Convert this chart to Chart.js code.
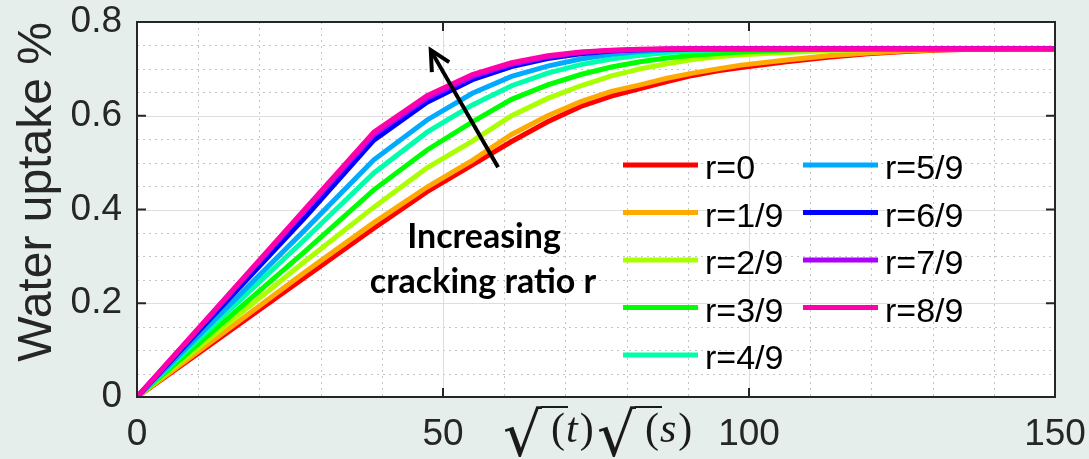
<!DOCTYPE html>
<html>
<head>
<meta charset="utf-8">
<script src="https://cdn.jsdelivr.net/npm/chart.js@4.4.1/dist/chart.umd.min.js"></script>
<style>
html, body { margin: 0; padding: 0; background: #e6eeec; }
canvas { display: block; }
</style>
</head>
<body>
<canvas id="uptakeChart" width="1089" height="459"></canvas>
<script>
// sqrt(t) sample points shared by every curve
const sqrtTime = [0, 27.4, 38.7, 47.4, 54.8, 61.2, 67.1, 72.5, 77.5, 82.2, 86.6, 90.8, 94.9, 98.7, 106.1, 112.9, 119.4, 125.5, 131.3, 136.9, 142.3, 150];

const ratioLabels = ["r=0", "r=1/9", "r=2/9", "r=3/9", "r=4/9", "r=5/9", "r=6/9", "r=7/9", "r=8/9"];

// water uptake (%) for each cracking ratio
const uptakeR0 = [0, 0.255, 0.360, 0.438, 0.495, 0.545, 0.587, 0.620, 0.642, 0.658, 0.673, 0.686, 0.696, 0.703, 0.715, 0.725, 0.732, 0.737, 0.740, 0.742, 0.743, 0.743];
const uptakeR1 = [0, 0.266, 0.372, 0.448, 0.505, 0.560, 0.600, 0.630, 0.652, 0.666, 0.680, 0.691, 0.700, 0.708, 0.719, 0.728, 0.734, 0.738, 0.741, 0.742, 0.743, 0.743];
const uptakeR2 = [0, 0.289, 0.405, 0.489, 0.546, 0.600, 0.637, 0.664, 0.685, 0.700, 0.711, 0.720, 0.726, 0.730, 0.735, 0.739, 0.741, 0.742, 0.743, 0.743, 0.743, 0.743];
const uptakeR3 = [0, 0.310, 0.442, 0.527, 0.587, 0.635, 0.666, 0.688, 0.704, 0.715, 0.723, 0.729, 0.733, 0.736, 0.740, 0.742, 0.743, 0.743, 0.743, 0.743, 0.743, 0.743];
const uptakeR4 = [0, 0.336, 0.478, 0.565, 0.623, 0.664, 0.691, 0.709, 0.721, 0.729, 0.735, 0.738, 0.741, 0.742, 0.743, 0.743, 0.743, 0.743, 0.743, 0.743, 0.743, 0.743];
const uptakeR5 = [0, 0.356, 0.506, 0.591, 0.648, 0.684, 0.706, 0.721, 0.731, 0.737, 0.740, 0.742, 0.743, 0.743, 0.743, 0.743, 0.743, 0.743, 0.743, 0.743, 0.743, 0.743];
const uptakeR6 = [0, 0.382, 0.548, 0.629, 0.677, 0.705, 0.722, 0.732, 0.738, 0.741, 0.742, 0.743, 0.743, 0.743, 0.743, 0.743, 0.743, 0.743, 0.743, 0.743, 0.743, 0.743];
const uptakeR7 = [0, 0.397, 0.560, 0.638, 0.684, 0.710, 0.726, 0.735, 0.739, 0.741, 0.742, 0.743, 0.743, 0.743, 0.743, 0.743, 0.743, 0.743, 0.743, 0.743, 0.743, 0.743];
const uptakeR8 = [0, 0.400, 0.565, 0.643, 0.688, 0.713, 0.728, 0.736, 0.740, 0.742, 0.743, 0.743, 0.743, 0.743, 0.743, 0.743, 0.743, 0.743, 0.743, 0.743, 0.743, 0.743];

const xTicks = [0, 50, 100, 150];
const yTicks = [0, 0.2, 0.4, 0.6, 0.8];

const allSeries = [uptakeR0, uptakeR1, uptakeR2, uptakeR3, uptakeR4, uptakeR5, uptakeR6, uptakeR7, uptakeR8];
const lineColors = ["#ff0000", "#ffaa00", "#aaff00", "#00ff00", "#00ffaa", "#00aaff", "#0000ff", "#aa00ff", "#ff00aa"];

const axisColor = "#262626";
const sansFont = '"Liberation Sans", Arial, sans-serif';

const datasets = allSeries.map((vals, i) => ({
  label: ratioLabels[i],
  data: vals.map((v, j) => ({ x: sqrtTime[j], y: v })),
  borderColor: lineColors[i],
  backgroundColor: lineColors[i],
  borderWidth: 5,
  pointRadius: 0,
  tension: 0,
  fill: false,
  order: allSeries.length - 1 - i   // later ratios drawn on top
}));

// background, grid, frame and inward tick marks
const axesBox = {
  id: "axesBox",
  beforeDraw(chart) {
    const { ctx, chartArea: a } = chart;
    ctx.save();
    ctx.fillStyle = "#e6eeec";
    ctx.fillRect(0, 0, chart.width, chart.height);
    ctx.fillStyle = "#ffffff";
    ctx.fillRect(a.left, a.top, a.right - a.left, a.bottom - a.top);
    ctx.restore();
  },
  beforeDatasetsDraw(chart) {
    const { ctx, chartArea: a, scales: { x, y } } = chart;
    ctx.save();
    ctx.lineWidth = 1;
    // minor dotted grid
    ctx.strokeStyle = "#c4c4c4";
    ctx.setLineDash([2, 4]);
    for (let v = 10; v < 150; v += 10) {
      if (v % 50 === 0) continue;
      const px = Math.round(x.getPixelForValue(v)) + 0.5;
      ctx.beginPath(); ctx.moveTo(px, a.top); ctx.lineTo(px, a.bottom); ctx.stroke();
    }
    for (let k = 1; k < 16; k++) {
      if (k % 4 === 0) continue;
      const py = Math.round(y.getPixelForValue(k * 0.05)) + 0.5;
      ctx.beginPath(); ctx.moveTo(a.left, py); ctx.lineTo(a.right, py); ctx.stroke();
    }
    // major solid grid
    ctx.setLineDash([]);
    ctx.strokeStyle = "#dedede";
    xTicks.slice(1, -1).forEach(v => {
      const px = Math.round(x.getPixelForValue(v)) + 0.5;
      ctx.beginPath(); ctx.moveTo(px, a.top); ctx.lineTo(px, a.bottom); ctx.stroke();
    });
    yTicks.slice(1, -1).forEach(v => {
      const py = Math.round(y.getPixelForValue(v)) + 0.5;
      ctx.beginPath(); ctx.moveTo(a.left, py); ctx.lineTo(a.right, py); ctx.stroke();
    });
    ctx.restore();
  },
  afterDatasetsDraw(chart) {
    const { ctx, chartArea: a, scales: { x, y } } = chart;
    ctx.save();
    ctx.strokeStyle = axisColor;
    ctx.lineWidth = 2;
    ctx.strokeRect(a.left, a.top, a.right - a.left, a.bottom - a.top);
    const tl = 9;
    ctx.beginPath();
    xTicks.forEach(v => {
      const px = x.getPixelForValue(v);
      ctx.moveTo(px, a.bottom); ctx.lineTo(px, a.bottom - tl);
      ctx.moveTo(px, a.top); ctx.lineTo(px, a.top + tl);
    });
    yTicks.forEach(v => {
      const py = y.getPixelForValue(v);
      ctx.moveTo(a.left, py); ctx.lineTo(a.left + tl, py);
      ctx.moveTo(a.right, py); ctx.lineTo(a.right - tl, py);
    });
    ctx.stroke();
    ctx.restore();
  }
};

// arrow, annotation text and the two-column legend
const overlay = {
  id: "overlay",
  afterDatasetsDraw(chart) {
    const { ctx, scales: { x, y } } = chart;
    ctx.save();

    // arrow
    const tx = x.getPixelForValue(48), ty = y.getPixelForValue(0.740);
    const bx = x.getPixelForValue(59), by = y.getPixelForValue(0.490);
    ctx.strokeStyle = "#000";
    ctx.lineWidth = 4;
    ctx.lineCap = "butt";
    ctx.beginPath(); ctx.moveTo(bx, by); ctx.lineTo(tx + 1, ty + 2); ctx.stroke();
    const ang = Math.atan2(by - ty, bx - tx);
    const head = 22, spread = 27 * Math.PI / 180;
    ctx.lineJoin = "miter";
    ctx.beginPath();
    ctx.moveTo(tx + head * Math.cos(ang - spread), ty + head * Math.sin(ang - spread));
    ctx.lineTo(tx, ty);
    ctx.lineTo(tx + head * Math.cos(ang + spread), ty + head * Math.sin(ang + spread));
    ctx.stroke();

    // annotation
    ctx.fillStyle = "#000";
    ctx.font = '700 34px Lato, "Open Sans", sans-serif';
    ctx.textAlign = "center";
    ctx.textBaseline = "alphabetic";
    ctx.fillText("Increasing", 484, 248);
    ctx.fillText("cracking ratio r", 483, 293);

    // legend
    ctx.font = "34px " + sansFont;
    ctx.textAlign = "left";
    ctx.fillStyle = "#000";
    const cols = [{ x0: 623, x1: 698, tx: 705 }, { x0: 803, x1: 878, tx: 885 }];
    const rows = [165, 212.5, 260, 307.5, 355];
    ratioLabels.forEach((lab, i) => {
      const c = cols[i < 5 ? 0 : 1];
      const ry = rows[i < 5 ? i : i - 5];
      ctx.strokeStyle = lineColors[i];
      ctx.lineWidth = 5;
      ctx.beginPath(); ctx.moveTo(c.x0, ry); ctx.lineTo(c.x1, ry); ctx.stroke();
      ctx.fillText(lab, c.tx, ry + 14);
    });
    ctx.restore();
  },
  afterDraw(chart) {
    const { ctx } = chart;
    ctx.save();
    ctx.fillStyle = axisColor;

    // y axis title
    ctx.translate(51, 192);
    ctx.rotate(-Math.PI / 2);
    ctx.font = "48px " + sansFont;
    ctx.textAlign = "center";
    ctx.textBaseline = "alphabetic";
    ctx.fillText("Water uptake %", 0, 0);
    ctx.setTransform(1, 0, 0, 1, 0, 0);

    // x axis title: sqrt(t) sqrt(s)
    ctx.fillStyle = "#1a1a1a";
    ctx.textAlign = "left";
    const rootTerm = (x0, letter) => {
      ctx.font = '100px "DejaVu Serif"';
      const m = ctx.measureText("\u221A");
      const size = 100 * 52 / (m.actualBoundingBoxAscent + m.actualBoundingBoxDescent);
      ctx.font = size.toFixed(1) + 'px "DejaVu Serif"';
      const r = ctx.measureText("\u221A");
      const top = 406;
      const gx = x0 + r.actualBoundingBoxLeft;
      ctx.fillText("\u221A", gx, top + r.actualBoundingBoxAscent);
      const rEnd = x0 + r.actualBoundingBoxLeft + r.actualBoundingBoxRight;
      ctx.font = '42px "Liberation Serif"';
      const pw = ctx.measureText("(").width;
      const px = rEnd + 9;
      ctx.fillText("(", px, 442);
      ctx.strokeStyle = "#1a1a1a";
      ctx.lineWidth = 2;
      ctx.beginPath(); ctx.moveTo(rEnd - 1, top + 1); ctx.lineTo(px + pw + 3, top + 1); ctx.stroke();
      ctx.font = 'italic 42px "Liberation Serif"';
      const lw = ctx.measureText(letter).width;
      ctx.fillText(letter, px + pw + 1, 442);
      ctx.font = '42px "Liberation Serif"';
      ctx.fillText(")", px + pw + lw + 3, 442);
    };
    rootTerm(504, "t");
    rootTerm(598, "s");
    ctx.restore();
  }
};

new Chart(document.getElementById("uptakeChart"), {
  type: "line",
  data: { datasets: datasets },
  options: {
    responsive: false,
    devicePixelRatio: 1,
    animation: false,
    layout: { padding: { left: 0, right: 34, top: 22, bottom: 0 } },
    plugins: { legend: { display: false }, tooltip: { enabled: false } },
    scales: {
      x: {
        type: "linear",
        min: 0,
        max: 150,
        afterFit(scale) {
          scale.height = 62;
          scale.paddingLeft = 0; scale.paddingRight = 0;
        },
        afterBuildTicks(scale) { scale.ticks = xTicks.map(v => ({ value: v })); },
        ticks: {
          autoSkip: false,
          maxRotation: 0,
          padding: 16,
          color: axisColor,
          font: { family: sansFont, size: 37 },
          callback: v => String(v)
        },
        grid: { display: false, drawTicks: false },
        border: { display: false }
      },
      y: {
        min: 0,
        max: 0.8,
        afterFit(scale) {
          scale.width = 137;
          scale.paddingTop = 0; scale.paddingBottom = 0;
        },
        afterBuildTicks(scale) { scale.ticks = yTicks.map(v => ({ value: v })); },
        ticks: {
          padding: 15,
          color: axisColor,
          font: { family: sansFont, size: 37 },
          callback: v => String(Number(v.toFixed(1)))
        },
        grid: { display: false, drawTicks: false },
        border: { display: false }
      }
    }
  },
  plugins: [axesBox, overlay]
});
</script>
</body>
</html>
